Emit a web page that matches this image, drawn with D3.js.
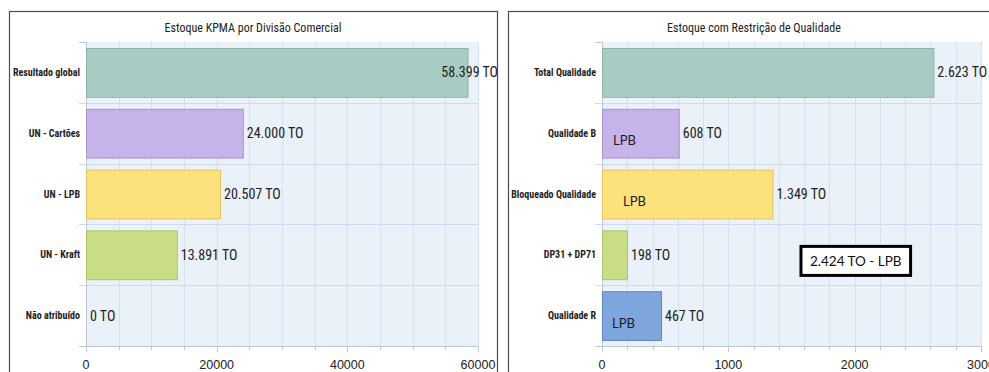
<!DOCTYPE html>
<html>
<head>
<meta charset="utf-8">
<script src="https://cdn.jsdelivr.net/npm/d3@7"></script>
<style>
  body { margin: 0; background: #fff; }
  svg { display: block; }
</style>
</head>
<body>
<div id="viz"></div>
<script>
// data
var leftTitle = "Estoque KPMA por Divisão Comercial",
    leftCategories = ["Resultado global", "UN - Cartões", "UN - LPB", "UN - Kraft", "Não atribuído"],
    leftValues = [58399, 24000, 20507, 13891, 0],
    leftTicks = [0, 20000, 40000, 60000];

var rightTitle = "Estoque com Restrição de Qualidade",
    rightCategories = ["Total Qualidade", "Qualidade B", "Bloqueado Qualidade", "DP31 + DP71", "Qualidade R"],
    rightValues = [2623, 608, 1349, 198, 467],
    rightTicks = [0, 1000, 2000, 3000];

var lpbCategories = ["Qualidade B", "Bloqueado Qualidade", "Qualidade R"],
    annotationText = "2.424 TO - LPB";

var barFill = ["#a8cbc3", "#c6b3ea", "#fde27c", "#c9de84", "#7ea6dd"],
    barStroke = ["#8db3aa", "#a895d0", "#e3c45e", "#aec466", "#5f88c2"];

var W = 989, H = 372;
var narrow = "'Roboto Condensed', Roboto, sans-serif";
var calib = "Lato, 'Open Sans', sans-serif";

var fmt = d3.formatLocale({decimal: ",", thousands: ".", grouping: [3], currency: ["", ""]}).format(",d");

var svg = d3.select("#viz").append("svg")
    .attr("width", W)
    .attr("height", H);

function drawPanel(p){
    var g = svg.append("g");

    // panel frame
    g.append("rect")
        .attr("x", p.x0 + 0.5).attr("y", 11.5)
        .attr("width", p.x1 - p.x0).attr("height", H)
        .attr("fill", "#fff")
        .attr("stroke", "#4a4a4a")
        .attr("stroke-width", 1.2);

    g.append("text")
        .attr("x", (p.x0 + p.x1) / 2)
        .attr("y", 32)
        .attr("text-anchor", "middle")
        .style("font-family", narrow)
        .style("font-stretch", "condensed")
        .style("font-size", "12px")
        .style("fill", "#222")
        .text(p.title);

    var x = d3.scaleLinear().domain([0, p.max]).range([p.left, p.right]);
    var y = d3.scaleBand().domain(p.categories).range([42, 346]).paddingInner(0).paddingOuter(0);
    var pad = 6;

    // plot background
    g.append("rect")
        .attr("x", p.left).attr("y", 42)
        .attr("width", p.right - p.left).attr("height", 304)
        .attr("fill", "#eaf1f9");

    // vertical gridlines
    g.selectAll("line.vgrid")
        .data(d3.range(p.minor, p.max + 1, p.minor))
        .enter().append("line")
        .attr("class", "vgrid")
        .attr("x1", function(d){return Math.round(x(d)) + 0.5;})
        .attr("x2", function(d){return Math.round(x(d)) + 0.5;})
        .attr("y1", 42).attr("y2", 346)
        .style("stroke", "#d4e1ee");

    // horizontal band separators
    g.selectAll("line.hgrid")
        .data(p.categories.slice(1))
        .enter().append("line")
        .attr("class", "hgrid")
        .attr("x1", p.left - 7).attr("x2", p.right)
        .attr("y1", function(d){return Math.round(y(d)) + 0.5;})
        .attr("y2", function(d){return Math.round(y(d)) + 0.5;})
        .style("stroke", "#cfdbe8");

    // left axis
    g.append("line")
        .attr("x1", p.left + 0.5).attr("x2", p.left + 0.5)
        .attr("y1", 42).attr("y2", 346)
        .style("stroke", "#b9c9da");
    g.append("line")
        .attr("x1", p.left - 7).attr("x2", p.left)
        .attr("y1", 42.5).attr("y2", 42.5)
        .style("stroke", "#b9c9da");

    // bottom axis
    g.append("line")
        .attr("x1", p.left - 7).attr("x2", p.right)
        .attr("y1", 346.5).attr("y2", 346.5)
        .style("stroke", "#b9c9da");
    g.selectAll("line.tick")
        .data(d3.range(0, p.max + 1, p.minor))
        .enter().append("line")
        .attr("x1", function(d){return Math.round(x(d)) + 0.5;})
        .attr("x2", function(d){return Math.round(x(d)) + 0.5;})
        .attr("y1", 346)
        .attr("y2", function(d){return p.ticks.indexOf(d) >= 0 ? 352 : 350;})
        .style("stroke", "#b9c9da");
    g.selectAll("text.tick")
        .data(p.ticks)
        .enter().append("text")
        .attr("x", function(d){return x(d);})
        .attr("y", 369)
        .attr("text-anchor", "middle")
        .style("font-family", "'Liberation Sans', Arial, sans-serif")
        .style("font-size", "12.5px")
        .style("fill", "#222")
        .text(function(d){return d;});

    // category labels
    g.selectAll("text.cat")
        .data(p.categories)
        .enter().append("text")
        .attr("x", p.left - 6)
        .attr("y", function(d){return y(d) + y.bandwidth() / 2 + 3.5;})
        .attr("text-anchor", "end")
        .style("font-family", narrow)
        .style("font-stretch", "condensed")
        .style("font-size", "10px")
        .style("font-weight", "bold")
        .style("fill", "#222")
        .text(function(d){return d;});

    // bars
    g.selectAll("rect.bar")
        .data(p.values)
        .enter().append("rect")
        .filter(function(d){return d > 0;})
        .attr("x", p.left + 0.5)
        .attr("y", function(d, i){return y(p.categories[i]) + pad + 0.5;})
        .attr("width", function(d){return x(d) - p.left;})
        .attr("height", y.bandwidth() - 2 * pad)
        .style("fill", function(d, i){return barFill[i];})
        .style("stroke", function(d, i){return barStroke[i];});

    // value labels
    g.selectAll("text.val")
        .data(p.values)
        .enter().append("text")
        .attr("y", function(d, i){return y(p.categories[i]) + y.bandwidth() / 2 + 5;})
        .style("font-family", narrow)
        .style("font-stretch", "condensed")
        .style("font-size", "14px")
        .style("fill", "#222")
        .text(function(d){return fmt(d) + " TO";})
        .attr("x", function(d){
            var w = this.getComputedTextLength(),
                lx = x(d) + 4;
            return Math.min(lx, p.x1 - w + 1);
        });

    return {x: x, y: y, g: g};
}

drawPanel({
    x0: 9, x1: 497, left: 86, right: 478,
    title: leftTitle, categories: leftCategories, values: leftValues,
    max: 60000, minor: 5000, ticks: leftTicks
});

var r = drawPanel({
    x0: 508, x1: 1000, left: 602, right: 981,
    title: rightTitle, categories: rightCategories, values: rightValues,
    max: 3000, minor: 200, ticks: rightTicks
});

// LPB marks inside bars
var lpbDx = {"Qualidade B": 11, "Bloqueado Qualidade": 21, "Qualidade R": 10};
r.g.selectAll("text.lpb")
    .data(lpbCategories)
    .enter().append("text")
    .attr("x", function(d){return r.x(0) + lpbDx[d];})
    .attr("y", function(d){return r.y(d) + r.y.bandwidth() / 2 + 12;})
    .style("font-family", calib)
    .style("font-size", "13px")
    .style("fill", "#1a1a2a")
    .text("LPB");

// annotation box
var ax = r.x(1575), ay = r.y("DP31 + DP71") + 22;
var at = r.g.append("text")
    .attr("x", ax + 9)
    .attr("y", ay + 20)
    .style("font-family", calib)
    .style("font-size", "13.5px")
    .style("fill", "#111")
    .text(annotationText);
var aw = at.node().getComputedTextLength();
r.g.insert("rect", "text:last-child")
    .attr("x", ax).attr("y", ay)
    .attr("width", aw + 18).attr("height", 29)
    .style("fill", "#fff")
    .style("stroke", "#000")
    .style("stroke-width", 3);
</script>
</body>
</html>
